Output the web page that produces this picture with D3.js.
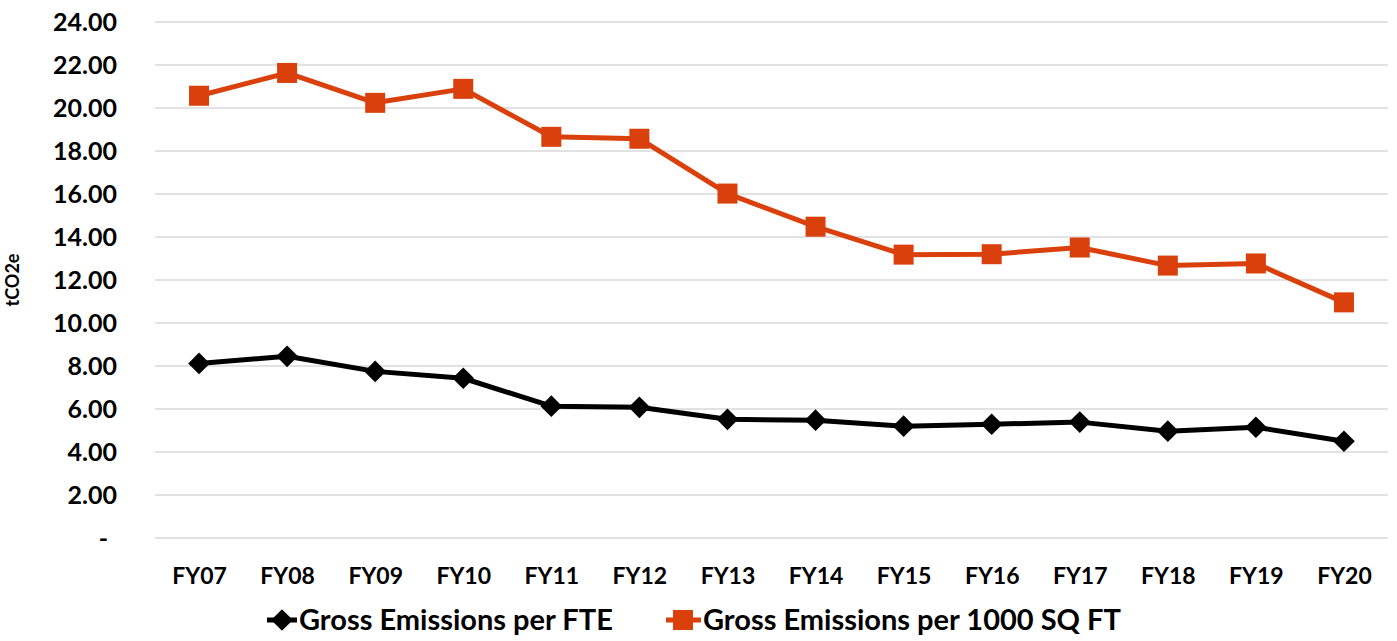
<!DOCTYPE html>
<html><head><meta charset="utf-8">
<script src="https://cdn.jsdelivr.net/npm/d3@7"></script>
<style>body{margin:0;background:#fff}svg{display:block}text{font-family:Lato,"Open Sans",sans-serif;font-weight:bold;fill:#000}</style>
</head><body><svg id="c" width="1397" height="641"></svg>
<script>
const categories = ["FY07","FY08","FY09","FY10","FY11","FY12","FY13","FY14","FY15","FY16","FY17","FY18","FY19","FY20"];
const perFTE = [8.12,8.45,7.75,7.43,6.13,6.08,5.52,5.48,5.20,5.29,5.39,4.97,5.15,4.50];
const perSqFt = [20.57,21.63,20.24,20.89,18.66,18.57,16.02,14.48,13.18,13.20,13.51,12.67,12.77,10.96];
const yTicks = [0,2,4,6,8,10,12,14,16,18,20,22,24];
const seriesNames = ["Gross Emissions per FTE","Gross Emissions per 1000 SQ FT"];
const yTitle = "tCO2e";

const svg = d3.select("#c");
const L=155, R=1388, T=22, B=538;
const x = d3.scalePoint().domain(categories).range([L,R]).padding(0.5);
const y = d3.scaleLinear().domain([0,24]).range([B,T]);
const orange = "#D9400B";

// gridlines
svg.append("g").selectAll("line").data(yTicks).join("line")
  .attr("x1",L).attr("x2",R).attr("y1",d=>y(d)).attr("y2",d=>y(d))
  .attr("stroke","#d9d9d9").attr("stroke-width",1.3);

// y axis labels
const yAxis = d3.axisLeft(y).tickValues(yTicks).tickSize(0).tickPadding(0)
  .tickFormat(d=> d===0 ? "-" : d3.format(".2f")(d));
const ya = svg.append("g").attr("transform",`translate(${L-38},0)`).call(yAxis);
ya.select(".domain").remove();
ya.selectAll("text").attr("font-size",25).attr("font-family","Lato").attr("font-weight","bold").attr("fill","#000").attr("dy","0.35em");
ya.selectAll(".tick").filter(d=>d===0).select("text").attr("dx",-9);

// x axis labels
const xAxis = d3.axisBottom(x).tickSize(0).tickPadding(0);
const xa = svg.append("g").attr("transform",`translate(0,${B+38})`).call(xAxis);
xa.select(".domain").remove();
xa.selectAll("text").attr("font-size",23).attr("font-family","Lato").attr("font-weight","bold").attr("fill","#000").attr("dy","0.35em");

// y title
svg.append("text").attr("transform",`translate(19,${(T+B)/2}) rotate(-90)`)
  .attr("text-anchor","middle").attr("font-size",18).text(yTitle);

const line = d3.line().x((d,i)=>x(categories[i])).y(d=>y(d));
// black series
svg.append("path").datum(perFTE).attr("d",line).attr("fill","none").attr("stroke","#000").attr("stroke-width",5).attr("stroke-linejoin","round");
const diamond = d3.symbol().type(d3.symbolDiamond2).size(300);
svg.append("g").selectAll("path").data(perFTE).join("path")
  .attr("d",diamond).attr("transform",(d,i)=>`translate(${x(categories[i])},${y(d)})`).attr("fill","#000");

// orange series
svg.append("path").datum(perSqFt).attr("d",line).attr("fill","none").attr("stroke",orange).attr("stroke-width",5).attr("stroke-linejoin","round");
svg.append("g").selectAll("rect").data(perSqFt).join("rect")
  .attr("x",(d,i)=>x(categories[i])-10).attr("y",d=>y(d)-10).attr("width",20).attr("height",20).attr("fill",orange);

// legend
const ly = 620;
const lg = svg.append("g");
lg.append("line").attr("x1",267).attr("x2",297).attr("y1",ly).attr("y2",ly).attr("stroke","#000").attr("stroke-width",5);
lg.append("path").attr("d",diamond).attr("transform",`translate(282,${ly})`).attr("fill","#000");
lg.append("text").attr("x",299).attr("y",ly).attr("dy","0.35em").attr("font-size",29).text(seriesNames[0]);
lg.append("line").attr("x1",666).attr("x2",701).attr("y1",ly).attr("y2",ly).attr("stroke",orange).attr("stroke-width",5);
lg.append("rect").attr("x",673).attr("y",ly-10).attr("width",20).attr("height",20).attr("fill",orange);
lg.append("text").attr("x",703).attr("y",ly).attr("dy","0.35em").attr("font-size",29).text(seriesNames[1]);
</script></body></html>
